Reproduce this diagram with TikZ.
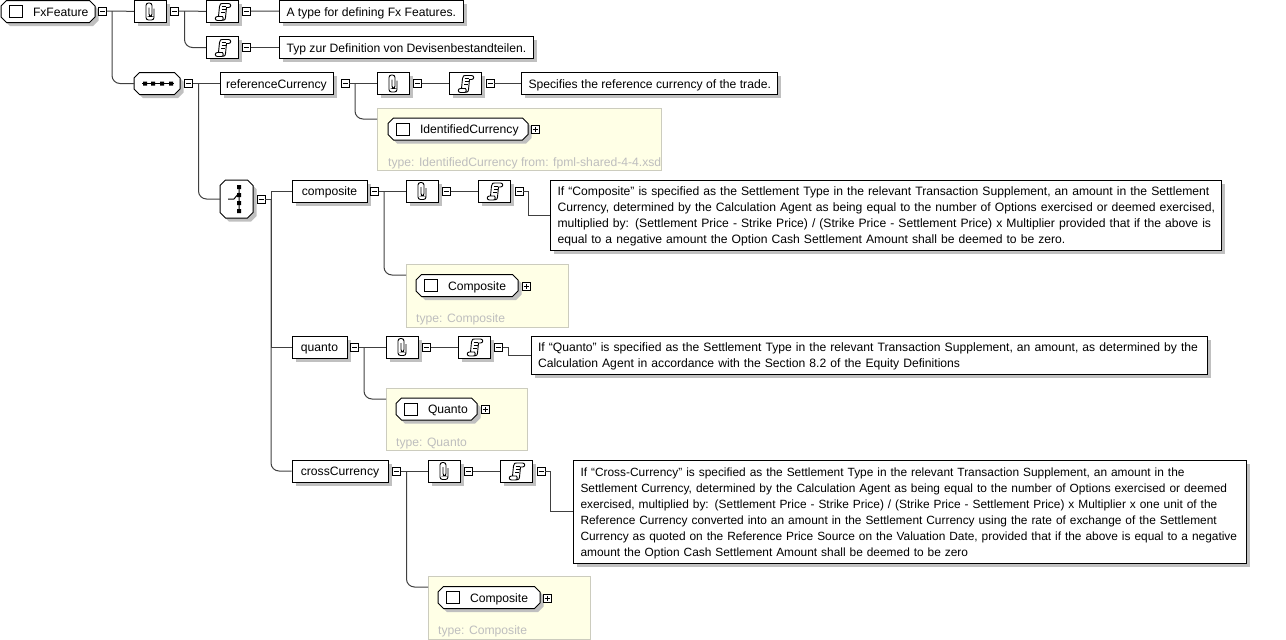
\documentclass[tikz,border=0pt]{standalone}
\usepackage{fontspec}
\setmainfont{Liberation Sans}
\usetikzlibrary{positioning,arrows.meta,shadows}
\definecolor{shadowgray}{RGB}{192,192,192}
\definecolor{linegray}{RGB}{64,64,64}
\definecolor{typeyellow}{RGB}{255,255,230}
\definecolor{typeborder}{RGB}{204,204,190}
\definecolor{typetext}{RGB}{190,190,190}
\makeatletter
\pgfdeclareshape{octabox}{
  \inheritsavedanchors[from=rectangle]
  \inheritanchorborder[from=rectangle]
  \inheritanchor[from=rectangle]{center}
  \inheritanchor[from=rectangle]{west}
  \inheritanchor[from=rectangle]{east}
  \inheritanchor[from=rectangle]{north}
  \inheritanchor[from=rectangle]{south}
  \backgroundpath{
    \southwest \edef\octl{\the\pgf@x}\edef\octb{\the\pgf@y}
    \northeast \edef\octr{\the\pgf@x}\edef\octt{\the\pgf@y}
    \pgfpathmoveto{\pgfqpoint{\dimexpr\octl+5.5pt}{\octt}}
    \pgfpathlineto{\pgfqpoint{\dimexpr\octr-5.5pt}{\octt}}
    \pgfpathlineto{\pgfqpoint{\octr}{\dimexpr\octt-5.5pt}}
    \pgfpathlineto{\pgfqpoint{\octr}{\dimexpr\octb+5.5pt}}
    \pgfpathlineto{\pgfqpoint{\dimexpr\octr-5.5pt}{\octb}}
    \pgfpathlineto{\pgfqpoint{\dimexpr\octl+5.5pt}{\octb}}
    \pgfpathlineto{\pgfqpoint{\octl}{\dimexpr\octb+5.5pt}}
    \pgfpathlineto{\pgfqpoint{\octl}{\dimexpr\octt-5.5pt}}
    \pgfpathclose
  }
}
\makeatother
\tikzset{
  dropgray/.style={drop shadow={shadow xshift=3.5pt,shadow yshift=-3.5pt,fill=shadowgray,opacity=1}},
  clipicon/.style={path picture={
    \draw[shift={(path picture bounding box.center)},line width=.9pt,rounded corners=2.5pt]
      (3.5,-3) -- (3.5,8.5) -- (-4.5,8.5) -- (-4.5,-8.5) -- (1.5,-8.5) -- (1.5,5) -- (-1.5,5) -- (-1.5,-4);
  }},
  scrollicon/.style={path picture={
    \draw[shift={(path picture bounding box.center)},line width=.9pt]
      (-4,5) -- (-3,-5) .. controls (-3,-8) and (-1,-8) .. (0,-8) -- (6,-8)
      .. controls (9,-8) and (9,-4) .. (6,-4) -- (4,-4) -- (3,6) .. controls (3,9) and (1,9) .. (-5,9)
      .. controls (-8,9) and (-8,5) .. (-5,5) -- (0,5) .. controls (1,5) and (1,8) .. (0,9);
    \draw[shift={(path picture bounding box.center)},line width=.9pt]
      (-1,-5) -- (3,-5) (-1,-2) -- (3,-2) (-1.5,1) -- (2.5,1);
  }},
}
\begin{document}
\begin{tikzpicture}[x=1pt,y=-1pt,
  conn/.style={draw=linegray,line width=1pt},
  curved/.style={conn,rounded corners=8pt},
  iconbox/.style={rectangle,draw,fill=white,line width=1pt,dropgray,minimum width=32pt,minimum height=22pt,inner sep=0pt},
  annot/.style={iconbox,clipicon},
  docicon/.style={iconbox,scrollicon},
  fieldbox/.style={rectangle,draw,fill=white,line width=1pt,dropgray,minimum height=22pt,inner sep=0pt,text height=9pt,text depth=0pt,font=\fontsize{12.15}{14}\selectfont},
  docu/.style={rectangle,draw,fill=white,line width=1pt,dropgray,anchor=west,align=left,inner xsep=4pt,inner ysep=0pt,font=\fontsize{12.15}{16}\selectfont,execute at begin node={\leftskip=3pt\relax\hyphenpenalty=10000\relax\rule{0pt}{11.5pt}}},
  docline/.style={rectangle,draw,fill=white,line width=1pt,dropgray,anchor=west,inner xsep=7pt,inner ysep=0pt,font=\fontsize{12.15}{16}\selectfont,minimum height=22pt,text height=9pt,text depth=0pt},
  element/.style={shape=octabox,outer sep=0pt,draw,fill=white,line width=1pt,dropgray,inner ysep=0pt,inner xsep=5pt,minimum height=22pt,text height=9pt,text depth=0pt,align=left,font=\fontsize{12.15}{14}\selectfont,
    path picture={\draw[line width=1pt] ([xshift=8.5pt]path picture bounding box.west) ++(0,-6) rectangle ++(13,12);}},
  compositor/.style={shape=octabox,outer sep=0pt,draw,fill=white,line width=1pt,dropgray,inner sep=0pt},
  minus/.style={rectangle,draw,fill=white,line width=.8pt,minimum size=8pt,inner sep=0pt,
    path picture={\draw[shift={(path picture bounding box.center)}] (-2.5,0) -- (2.5,0);}},
  plus/.style={rectangle,draw,fill=white,line width=.8pt,minimum size=8pt,inner sep=0pt,
    path picture={\draw[shift={(path picture bounding box.center)}] (-2.5,0) -- (2.5,0) (0,-2.5) -- (0,2.5);}},
  typebox/.style={rectangle,draw=typeborder,fill=typeyellow,line width=1pt,inner sep=0pt},
  typelabel/.style={anchor=west,inner sep=0pt,text=typetext,font=\fontsize{12.15}{14}\selectfont},
]
\useasboundingbox (0,0) rectangle (1286,640);

% root element and its annotation
\node[element,text width=84pt] (fx) at (48,11.5) {\hspace*{27pt}FxFeature};
\node[minus] (fxm) at (102.5,11) {};
\coordinate (fxb) at (112,11);
\node[annot] (fxann) at (150.5,11.5) {};
\node[minus] (fxannm) at (174.5,11) {};
\coordinate (fxannb) at (184.5,11);
\node[docicon] (fxdoca) at (222.5,11.5) {};
\node[minus] (fxdocam) at (246.5,11) {};
\node[docline] (fxtxta) at (279,11.5) {A type for defining Fx Features.};
\node[docicon] (fxdocb) at (222.5,47.5) {};
\node[minus] (fxdocbm) at (246.5,47.5) {};
\node[docline] (fxtxtb) at (279,47.5) {Typ zur Definition von Devisenbestandteilen.};
\draw[conn] (fxm) -- (fxann);
\draw[conn] (fxannm) -- (fxdoca);
\draw[conn] (fxdocam) -- (fxtxta);
\draw[conn] (fxdocbm) -- (fxtxtb);
\draw[curved] (fxannb) |- (fxdocb);

% sequence
\node[compositor,minimum width=46pt,minimum height=22pt] (seq) at (157,83.5) {};
\draw[line width=1pt] (142,83.5) -- (174,83.5);
\fill[black] (143,81.5) rectangle (147,85.5) (151,81.5) rectangle (155,85.5) (160,81.5) rectangle (164,85.5) (169,81.5) rectangle (173,85.5);
\node[minus] (seqm) at (188.5,83.5) {};
\coordinate (seqb) at (198.5,83.5);
\draw[curved] (fxb) |- (seq);

% referenceCurrency
\node[fieldbox,minimum width=113pt] (ref) at (276.5,83.5) {referenceCurrency};
\node[minus] (refm) at (345,83.5) {};
\coordinate (refb) at (355,83.5);
\node[annot] (refann) at (393.5,83.5) {};
\node[minus] (refannm) at (417.5,83.5) {};
\node[docicon] (refdoc) at (465.5,83.5) {};
\node[minus] (refdocm) at (490,83.5) {};
\node[docline] (reftxt) at (521,83.5) {Specifies the reference currency of the trade.};
\node[typebox,minimum width=284pt,minimum height=62pt] (refy) at (519,139) {};
\coordinate (refyin) at (377,119);
\node[element,text width=130pt] (refel) at (458,129) {\hspace*{27pt}IdentifiedCurrency};
\node[plus] (refelp) at (535,129) {};
\node[typelabel] (refty) at (388,163.5) {type: IdentifiedCurrency from: fpml-shared-4-4.xsd};
\draw[conn] (seqm) -- (ref);
\draw[conn] (refm) -- (refann);
\draw[conn] (refannm) -- (refdoc);
\draw[conn] (refdocm) -- (reftxt);
\draw[curved] (refb) |- (refyin);

% choice
\node[compositor,minimum width=33pt,minimum height=38pt] (cho) at (236.5,199) {};
\draw[line width=1pt] (239,187) -- (239,211) (228,199) -- (234,199) -- (239,193);
\fill[black] (237,185) rectangle (241,189) (237,193) rectangle (241,197) (237,201) rectangle (241,205) (237,209) rectangle (241,213);
\node[minus] (chom) at (261,199) {};
\coordinate (chob) at (271,199);
\draw[curved] (seqb) |- (cho);

% composite
\node[fieldbox,minimum width=75pt] (cmp) at (329.5,191) {composite};
\node[minus] (cmpm) at (374.5,191) {};
\coordinate (cmpb) at (384,191);
\node[annot] (cmpann) at (422.5,191) {};
\node[minus] (cmpannm) at (446.5,191) {};
\node[docicon] (cmpdoc) at (494.5,191) {};
\node[minus] (cmpdocm) at (519,191) {};
\node[docu,text width=663pt,minimum height=70pt] (cmptxt) at (550,215) {If “Composite” is specified as the Settlement Type in the relevant Transaction Supplement, an amount in the Settlement\\Currency, determined by the Calculation Agent as being equal to the number of Options exercised or deemed exercised,\\multiplied by: (Settlement Price - Strike Price) / (Strike Price - Settlement Price) x Multiplier provided that if the above is\\equal to a negative amount the Option Cash Settlement Amount shall be deemed to be zero.};
\node[typebox,minimum width=162pt,minimum height=63pt] (cmpy) at (487,295.5) {};
\coordinate (cmpyin) at (406,275);
\node[element,text width=92pt] (cmpel) at (467,285.5) {\hspace*{27pt}Composite};
\node[plus] (cmpelp) at (526,286) {};
\node[typelabel] (cmpty) at (416,319.5) {type: Composite};
\draw[conn] (cmpm) -- (cmpann);
\draw[conn] (cmpannm) -- (cmpdoc);
\draw[conn] (cmpdocm) -- ++(9,0) |- (cmptxt);
\draw[curved] (cmpb) |- (cmpyin);

% quanto
\node[fieldbox,minimum width=55pt] (qua) at (319.5,347) {quanto};
\node[minus] (quam) at (354.5,347) {};
\coordinate (quab) at (364,347);
\node[annot] (quaann) at (402.5,347) {};
\node[minus] (quaannm) at (426.5,347) {};
\node[docicon] (quadoc) at (474.5,347) {};
\node[minus] (quadocm) at (498.5,347) {};
\node[docu,text width=668pt,minimum height=38pt] (quatxt) at (530.5,355) {If “Quanto” is specified as the Settlement Type in the relevant Transaction Supplement, an amount, as determined by the\\Calculation Agent in accordance with the Section 8.2 of the Equity Definitions};
\node[typebox,minimum width=141pt,minimum height=62pt] (quay) at (456.5,419) {};
\coordinate (quayin) at (386,399);
\node[element,text width=71pt] (quael) at (436.5,409) {\hspace*{27pt}Quanto};
\node[plus] (quaelp) at (485,409.5) {};
\node[typelabel] (quaty) at (396,443.5) {type: Quanto};
\draw[conn] (quam) -- (quaann);
\draw[conn] (quaannm) -- (quadoc);
\draw[conn] (quadocm) -- ++(10,0) |- (quatxt);
\draw[curved] (quab) |- (quayin);

% crossCurrency
\node[fieldbox,minimum width=96pt] (crs) at (340,471) {crossCurrency};
\node[minus] (crsm) at (396.5,471) {};
\coordinate (crsb) at (406.5,471);
\node[annot] (crsann) at (444.5,471) {};
\node[minus] (crsannm) at (468.5,471) {};
\node[docicon] (crsdoc) at (516.5,471) {};
\node[minus] (crsdocm) at (541,471) {};
\node[docu,text width=665pt,minimum height=103pt,font=\fontsize{11.9}{16}\selectfont] (crstxt) at (573,511.5) {If “Cross-Currency” is specified as the Settlement Type in the relevant Transaction Supplement, an amount in the\\Settlement Currency, determined by the Calculation Agent as being equal to the number of Options exercised or deemed\\exercised, multiplied by: (Settlement Price - Strike Price) / (Strike Price - Settlement Price) x Multiplier x one unit of the\\Reference Currency converted into an amount in the Settlement Currency using the rate of exchange of the Settlement\\Currency as quoted on the Reference Price Source on the Valuation Date, provided that if the above is equal to a negative\\amount the Option Cash Settlement Amount shall be deemed to be zero};
\node[typebox,minimum width=162pt,minimum height=63pt] (crsy) at (509,607.5) {};
\coordinate (crsyin) at (428,587);
\node[element,text width=92pt] (crsel) at (489,597.5) {\hspace*{27pt}Composite};
\node[plus] (crselp) at (547,598) {};
\node[typelabel] (crsty) at (438,631.5) {type: Composite};
\draw[conn] (crsm) -- (crsann);
\draw[conn] (crsannm) -- (crsdoc);
\draw[conn] (crsdocm) -- ++(9,0) |- (crstxt);
\draw[curved] (crsb) |- (crsyin);

% choice branches
\draw[conn] (chom) -- (chob);
\draw[conn] (chob) |- (cmp);
\draw[conn] (chob) |- (qua);
\draw[curved] (chob) |- (crs);
\end{tikzpicture}
\end{document}
